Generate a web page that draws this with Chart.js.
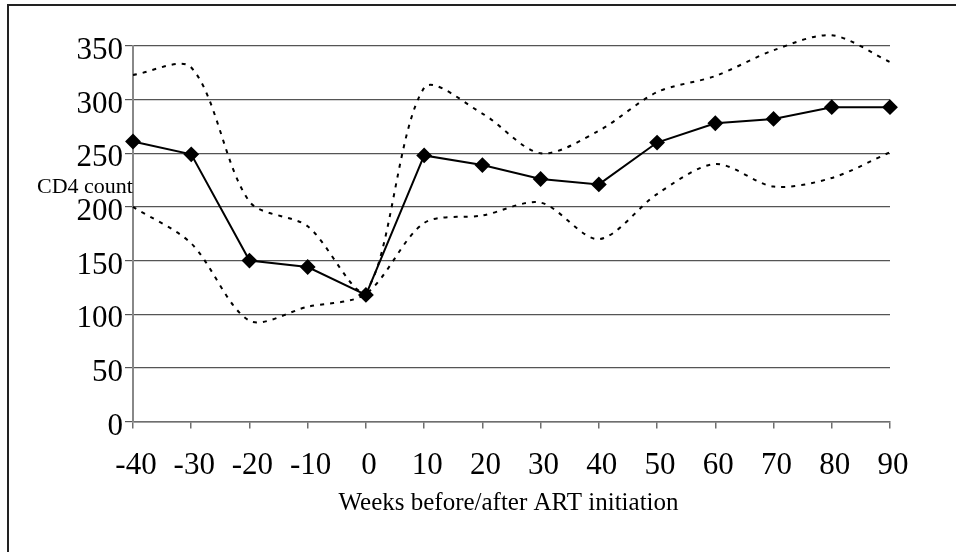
<!DOCTYPE html>
<html>
<head>
<meta charset="utf-8">
<script src="https://cdn.jsdelivr.net/npm/chart.js@4/dist/chart.umd.min.js"></script>
<style>
html,body{margin:0;padding:0;background:#fff;}
#wrap{width:956px;height:552px;position:relative;}
</style>
</head>
<body>
<div id="wrap"><canvas id="c" width="956" height="552"></canvas></div>
<script>
const weeks = ['-40','-30','-20','-10','0','10','20','30','40','50','60','70','80','90'];
const cd4Median = [261,249,150,144,118,248,239,226,221,260,278,282,293,293];
const cd4Upper  = [323,330,205,182,122,311,287,250,271,307,322,346,360,335];
const cd4Lower  = [200,166,94,107,119,185,192,204,170,212,240,219,227,251];
const yTicks = [0,50,100,150,200,250,300,350];
const xTitle = 'Weeks before/after ART initiation';
const yTitle = 'CD4 count';

const serif = "'Liberation Serif','Times New Roman',serif";

const decor = {
  id: 'decor',
  afterDraw(chart) {
    const ctx = chart.ctx;
    ctx.save();
    ctx.strokeStyle = '#222';
    ctx.lineWidth = 2;
    ctx.beginPath();
    ctx.moveTo(8, 552);
    ctx.lineTo(8, 5);
    ctx.lineTo(956, 5);
    ctx.stroke();
    ctx.fillStyle = '#000';
    ctx.textBaseline = 'alphabetic';
    ctx.font = '22px ' + serif;
    ctx.textAlign = 'left';
    ctx.fillText(yTitle, 37, 193);
    ctx.font = '25px ' + serif;
    ctx.textAlign = 'center';
    const xs = chart.scales.x;
    ctx.fillText(xTitle, (xs.left + xs.right) / 2 - 3, 510);
    ctx.restore();
  }
};

new Chart(document.getElementById('c'), {
  type: 'line',
  data: {
    labels: weeks,
    datasets: [
      {
        data: cd4Upper,
        borderColor: '#000',
        borderWidth: 2,
        borderDash: [4, 6],
        pointRadius: 0,
        tension: 0.3,
        clip: false,
        fill: false
      },
      {
        data: cd4Lower,
        borderColor: '#000',
        borderWidth: 2,
        borderDash: [4, 6],
        pointRadius: 0,
        tension: 0.3,
        clip: false,
        fill: false
      },
      {
        data: cd4Median,
        borderColor: '#000',
        borderWidth: 2,
        pointStyle: 'rectRot',
        pointRadius: 6.5,
        pointBackgroundColor: '#000',
        pointBorderColor: '#000',
        tension: 0,
        clip: false,
        fill: false
      }
    ]
  },
  options: {
    responsive: false,
    animation: false,
    devicePixelRatio: 1,
    layout: { padding: { left: 0, top: 46, right: 66, bottom: 0 } },
    plugins: { legend: { display: false }, tooltip: { enabled: false }, title: { display: false } },
    scales: {
      x: {
        type: 'category',
        offset: false,
        grid: { display: true, drawOnChartArea: false, drawTicks: true, tickLength: 7, color: '#6e6e6e', lineWidth: 1.5 },
        border: { display: true, color: '#6e6e6e', width: 1.5 },
        ticks: { color: '#000', font: { family: serif, size: 31 }, padding: 19, labelOffset: 3, maxRotation: 0, autoSkip: false },
        afterFit(s) { s.height = 552 - 421.5; }
      },
      y: {
        min: 0, max: 350,
        afterBuildTicks(s) { s.ticks = yTicks.map(v => ({ value: v })); },
        grid: { color: '#555', lineWidth: 1.2, drawTicks: true, tickLength: 8 },
        border: { display: true, color: '#888', width: 2 },
        ticks: { color: '#000', font: { family: serif, size: 31 }, padding: 2, labelOffset: 5 },
        afterFit(s) { s.width = 133; }
      }
    }
  },
  plugins: [decor]
});
</script>
</body>
</html>
